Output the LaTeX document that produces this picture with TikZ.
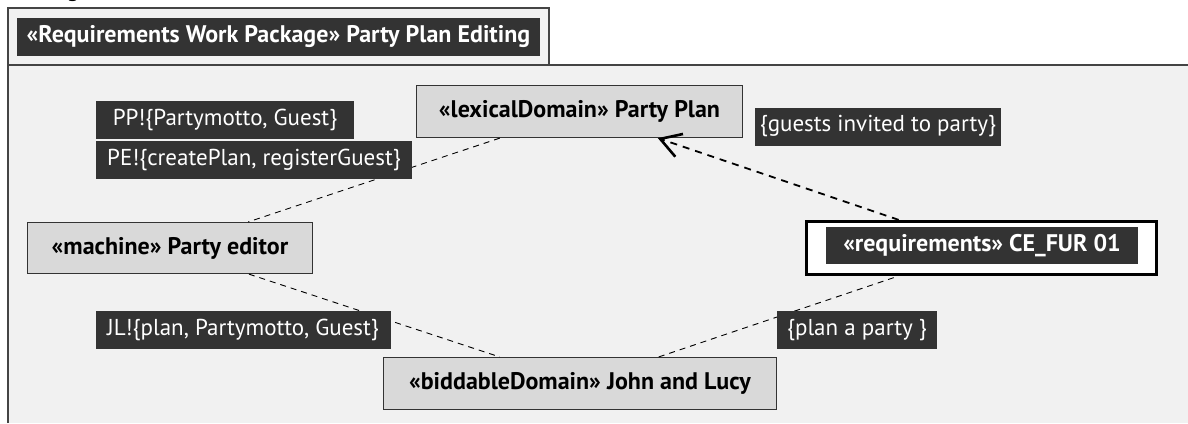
\documentclass[tikz,border=0pt]{standalone}
\usepackage{fontspec}
\setmainfont{PT Sans}
\usetikzlibrary{arrows.meta}
\definecolor{darklbl}{HTML}{333333}
\definecolor{boxgray}{HTML}{D9D9D9}
\definecolor{bodygray}{HTML}{F1F1F1}
\definecolor{edgegray}{HTML}{444444}
\tikzset{domainbox/.style={draw=darklbl, line width=1.2pt, fill=boxgray, inner sep=0pt, font=\bfseries\fontsize{24}{28}\selectfont},
darklabel/.style={fill=darklbl, text=white, inner sep=0pt, minimum height=38pt, font=\fontsize{23}{27}\selectfont},
iface/.style={dash pattern=on 6pt off 5pt, line width=0.9pt},
reqref/.style={dash pattern=on 7pt off 6pt, line width=1.8pt, -{Straight Barb[length=20pt,width=24pt,line width=2.6pt]}}}

\begin{document}
\begin{tikzpicture}[x=1pt,y=-1pt]
\useasboundingbox (0,0) rectangle (1188,423);
% package frame
\fill[bodygray] (8,65) rectangle (1188,423);
\draw[edgegray, line width=2pt] (8,423)--(8,65)--(1188,65);
\draw[edgegray, line width=1.2pt, fill=bodygray] (8,8) rectangle (549,65);
\node[font=\fontsize{24}{28}\selectfont, anchor=base] (ttl) at (73,-3) {g};
\node[darklabel, font=\bfseries\fontsize{24}{28}\selectfont, minimum width=523pt] (pkg) at (278.5,37) {«Requirements Work Package» Party Plan Editing};
% domains
\node[domainbox, minimum width=326pt, minimum height=52pt] (plan) at (579.5,111.5) {«lexicalDomain» Party Plan};
\node[domainbox, minimum width=285pt, minimum height=51pt] (machine) at (170,248) {«machine» Party editor};
\node[domainbox, minimum width=393pt, minimum height=52pt] (john) at (580,383.5) {«biddableDomain» John and Lucy};
\node[draw=black, line width=3.3pt, fill=white, minimum width=350pt, minimum height=53pt, inner sep=0pt] (req) at (981.5,248) {};
\node[darklabel, font=\bfseries\fontsize{24}{28}\selectfont, minimum width=312pt, minimum height=37pt] (reqname) at (982,245.5) {«requirements» CE\_FUR 01};
% interfaces
\draw[iface] (plan)--(machine);
\draw[iface] (machine)--(john);
\draw[iface] (john)--(req);
\draw[reqref] (req)--(plan);
% phenomena
\node[darklabel, minimum width=258pt] (pp) at (225,119.5) {PP!\{Partymotto, Guest\}};
\node[darklabel, minimum width=316pt] (pe) at (254,160) {PE!\{createPlan, registerGuest\}};
\node[darklabel, minimum width=246pt] (guests) at (878,126.5) {\{guests invited to party\}};
\node[darklabel, minimum width=295pt] (jl) at (243,330) {JL!\{plan, Partymotto, Guest\}};
\node[darklabel, minimum width=160pt] (party) at (857,330) {\{plan a party \}};
\end{tikzpicture}
\end{document}
